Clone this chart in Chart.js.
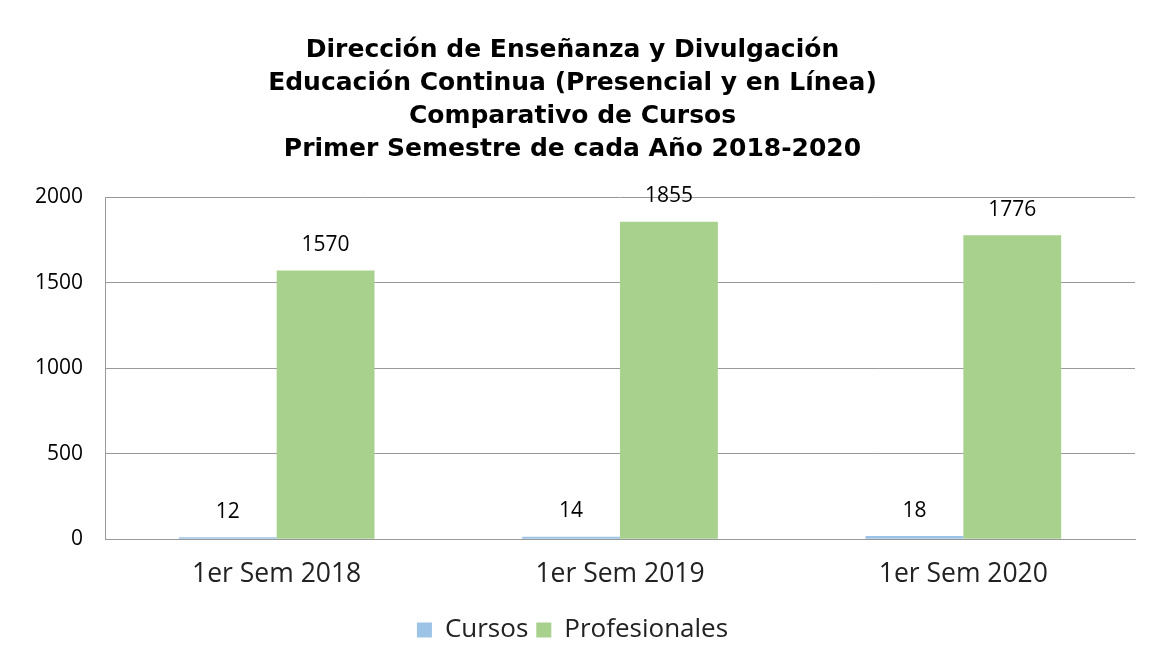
<!DOCTYPE html>
<html>
<head>
<meta charset="utf-8">
<script src="https://cdn.jsdelivr.net/npm/chart.js@4"></script>
<style>
  body { margin: 0; background: #fff; }
  #wrap { width: 1150px; height: 664px; }
</style>
</head>
<body>
<div id="wrap"><canvas id="chart"></canvas></div>
<script>
let categories = ['1er Sem 2018', '1er Sem 2019', '1er Sem 2020'];
let cursos = [12, 14, 18];
let profesionales = [1570, 1855, 1776];
let yTicks = [0, 500, 1000, 1500, 2000];

// values above each bar
const valueLabels = {
    id: 'valueLabels',
    afterDatasetsDraw(chart) {
        let ctx = chart.ctx;
        ctx.save();
        ctx.font = '21px "Open Sans", sans-serif';
        ctx.fillStyle = '#000';
        ctx.textAlign = 'center';
        ctx.textBaseline = 'bottom';
        chart.data.datasets.forEach((ds, i) => {
            chart.getDatasetMeta(i).data.forEach((bar, j) => {
                ctx.fillText(ds.data[j], bar.x, bar.y - 15);
            });
        });
        ctx.restore();
    }
};

new Chart(document.getElementById('chart'), {
    type: 'bar',
    data: {
        labels: categories,
        datasets: [
            { label: 'Cursos', data: cursos, backgroundColor: '#9dc3e6' },
            { label: 'Profesionales', data: profesionales, backgroundColor: '#a9d18e' }
        ]
    },
    options: {
        responsive: true,
        maintainAspectRatio: false,
        animation: false,
        categoryPercentage: 0.57,
        barPercentage: 1,
        layout: { padding: { left: 10, right: 15, top: 0, bottom: 11 } },
        plugins: {
            title: {
                display: true,
                text: ['Dirección de Enseñanza y Divulgación', 'Educación Continua (Presencial y en Línea)', 'Comparativo de Cursos', 'Primer Semestre de cada Año 2018-2020'],
                color: '#000',
                font: { family: '"DejaVu Sans", sans-serif', size: 25, weight: 'bold', lineHeight: 1.32 },
                padding: { top: 34, bottom: 31 }
            },
            legend: {
                position: 'bottom',
                labels: {
                    color: '#222',
                    font: { family: '"Open Sans", sans-serif', size: 26 },
                    boxWidth: 15,
                    boxHeight: 15,
                    padding: 8
                }
            },
            tooltip: { enabled: false }
        },
        scales: {
            x: {
                grid: { display: false, drawTicks: false },
                border: { color: '#999' },
                ticks: { color: '#222', font: { family: '"Open Sans", sans-serif', size: 26.5 }, padding: 19 }
            },
            y: {
                min: 0,
                max: 2000,
                afterBuildTicks: axis => { axis.ticks = yTicks.map(v => ({ value: v })); },
                grid: { color: '#999', drawTicks: false },
                border: { color: '#999' },
                ticks: { color: '#000', font: { family: '"Open Sans", sans-serif', size: 21 }, padding: 22, callback: v => String(v) },
                afterFit: axis => { axis.width = 95; }
            }
        }
    },
    plugins: [valueLabels]
});
</script>
</body>
</html>
